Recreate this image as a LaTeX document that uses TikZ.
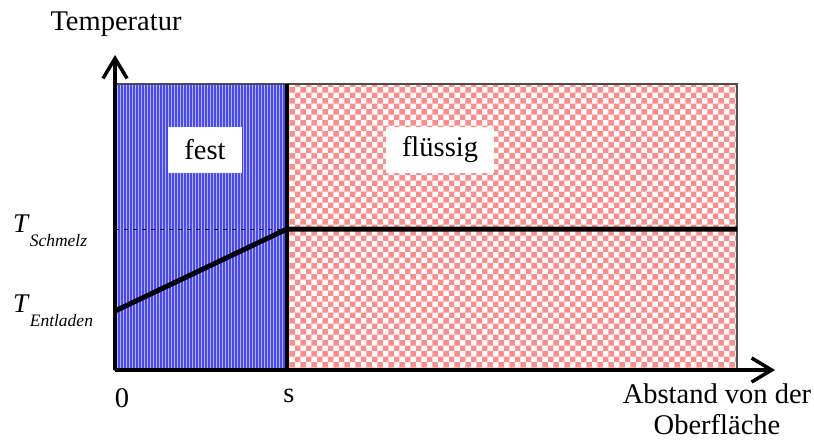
\documentclass[tikz,border=0pt]{standalone}
\usepackage{fontspec}
\setmainfont{Liberation Serif}
\usetikzlibrary{arrows.meta,patterns}

\tikzset{
  achse/.style={line width=3.5pt,-{Straight Barb[length=20pt,width=24pt]}},
  kurve/.style={line width=5pt},
  phase/.style={fill=white,inner sep=0pt,minimum height=46pt},
  beschr/.style={font=\fontsize{28.5}{31}\selectfont,inner sep=0pt},
}
\newcommand{\Tindex}[1]{\fontsize{27}{30}\selectfont\textit{T}\raisebox{-14pt}{\fontsize{17.5}{20}\selectfont\textit{#1}}}

\begin{document}
\begin{tikzpicture}[x=1pt,y=-1pt]
\useasboundingbox (0,0) rectangle (814,441);
% Eckpunkte
\coordinate (O) at (115,370);
\coordinate (ytip) at (115,55);
\coordinate (xtip) at (775,370);
\coordinate (soben) at (287,84);
\coordinate (sunten) at (287,370);
\coordinate (Tentl) at (115,311);
\coordinate (Tschm) at (287,229);
\coordinate (Tli) at (115,229);
\coordinate (Tend) at (737,229);
% fest (blau gestreift)
\fill[blue!28] (115,84) rectangle (soben |- O);
\foreach \x in {116,119,...,286}
  \draw[blue!72,line width=1.5pt] (\x,84) -- (\x,370);
% fluessig (rot kariert)
\fill[white] (soben) rectangle (737,370);
\fill[pattern=checkerboard,pattern color=red!45] (soben) rectangle (737,370);
\draw[gray!60!black,line width=1.5pt] (115,84) rectangle (737,370);
% Temperaturverlauf
\draw[line width=1pt,dash pattern=on 4pt off 5pt] (Tli) -- (Tschm);
\draw[line width=4.5pt] (soben) -- (sunten);
\draw[kurve] (Tentl) -- (Tschm) -- (Tend);
% Achsen
\draw[achse] (O) -- (ytip);
\draw[achse] (O) -- (xtip);
% Beschriftung
\node[beschr] (temp) at (116,24) {Temperatur};
\node[beschr] (null) at (122,398) {0};
\node[beschr] (s) at (289,396) {s};
\node[beschr,align=center,anchor=south] (abstand) at (717,435) {Abstand von der\\Oberfläche};
\node[phase,beschr,minimum width=74pt,minimum height=46pt] (fest) at (205,150) {fest};
\node[phase,beschr,minimum width=108pt,minimum height=46pt] (fl) at (440,150) {flüssig};
\node[anchor=base west,inner sep=0pt] (tschmelz) at (13,232) {\Tindex{Schmelz}};
\node[anchor=base west,inner sep=0pt] (tentladen) at (13,312) {\Tindex{Entladen}};
\end{tikzpicture}
\end{document}
